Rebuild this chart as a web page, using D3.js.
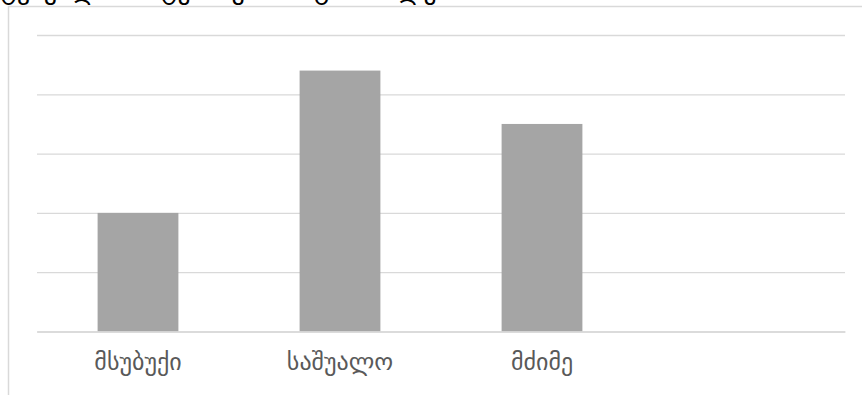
<!DOCTYPE html>
<html>
<head>
<meta charset="utf-8">
<script src="https://cdn.jsdelivr.net/npm/d3@7"></script>
<style>
  html, body { margin: 0; padding: 0; background: #fff; overflow: hidden; }
  svg { display: block; }
</style>
</head>
<body>
<svg id="chart" width="862" height="395"></svg>
<script>
// Pain severity groups (last slot intentionally left empty)
const categories = ["მსუბუქი", "საშუალო", "მძიმე", ""];
const values = [2.0, 4.4, 3.5, null];
const yTicks = [0, 1, 2, 3, 4, 5];
const title = "ტკივილის ინტენსივობის განაწილება";

const svg = d3.select("#chart");
const plot = { left: 37, right: 845, top: 35, bottom: 331.5 };

// chart area frame
svg.append("rect")
  .attr("x", 8.5).attr("y", 6.5)
  .attr("width", 900).attr("height", 420)
  .attr("fill", "#fff")
  .attr("stroke", "#d9d9d9").attr("stroke-width", 1.5);

// title, partly clipped by the top of the page
svg.append("text")
  .attr("x", 0).attr("y", -1)
  .attr("font-family", "DejaVu Sans, sans-serif")
  .attr("font-size", 26)
  .attr("fill", "#000")
  .text(title);

const x = d3.scaleBand()
  .domain(categories.map((c, i) => i))
  .range([plot.left, plot.right])
  .paddingInner(0.6)
  .paddingOuter(0.3);

const y = d3.scaleLinear()
  .domain([0, 5])
  .range([plot.bottom, plot.top]);

// horizontal gridlines
const yAxis = d3.axisLeft(y).tickValues(yTicks)
  .tickSize(-(plot.right - plot.left)).tickFormat("");
const gy = svg.append("g")
  .attr("transform", `translate(${plot.left},0)`)
  .call(yAxis);
gy.select(".domain").remove();
gy.selectAll(".tick line").attr("stroke", "#d9d9d9").attr("stroke-width", 1.3);

// bars
svg.append("g").selectAll("rect")
  .data(values.map((v, i) => ({ v, i })).filter(d => d.v != null))
  .join("rect")
  .attr("x", d => x(d.i))
  .attr("y", d => y(d.v))
  .attr("width", x.bandwidth())
  .attr("height", d => y(0) - y(d.v))
  .attr("fill", "#a5a5a5");

// category axis
const xAxis = d3.axisBottom(x).tickSize(0).tickPadding(0)
  .tickFormat(i => categories[i]);
const gx = svg.append("g")
  .attr("transform", `translate(0,${plot.bottom})`)
  .call(xAxis);
gx.select(".domain").attr("stroke", "#d9d9d9").attr("stroke-width", 1.5);
gx.selectAll(".tick text")
  .attr("dy", 0)
  .attr("y", 38.5)
  .attr("font-family", "DejaVu Sans, sans-serif")
  .attr("font-size", 24)
  .attr("fill", "#595959");
</script>
</body>
</html>
